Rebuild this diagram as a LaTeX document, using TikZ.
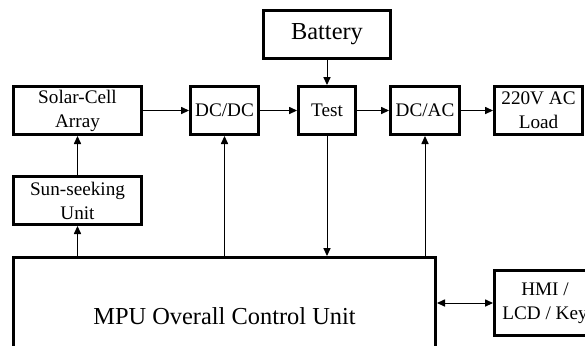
\documentclass[tikz,border=0pt]{standalone}
\usepackage{fontspec}
\setmainfont{Liberation Serif}
\usetikzlibrary{arrows.meta, positioning}

\begin{document}
\begin{tikzpicture}[
	block/.style={rectangle, draw, line width=1.5pt, minimum height=24pt, inner sep=1pt, align=center, font=\fontsize{9.6}{12}\selectfont},
	bigblock/.style={block, font=\fontsize{12.2}{14}\selectfont},
	arrow/.style={->, line width=0.5pt},
	>={Triangle[length=4pt, width=3.6pt]},
	node distance=16pt and 16pt
]
	\useasboundingbox (0,0) rectangle (292.5pt,-172.5pt);
	\clip (0,0) rectangle (292.5pt,-172.5pt);

	% Power chain
	\node[block, minimum width=64pt] (solar) at (38.75pt,-55.25pt) {Solar-Cell\\Array};
	\node[block, minimum width=34pt, right=23pt of solar] (dcdc) {DC/DC};
	\node[block, minimum width=28.5pt, right=18.5pt of dcdc] (test) {Test};
	\node[block, minimum width=34.5pt, right=of test] (dcac) {DC/AC};
	\node[block, minimum width=44pt, right=of dcac] (load) {220V AC\\Load};
	\node[bigblock, minimum width=63.5pt, above=12.5pt of test] (battery) {Battery};

	% Control
	\node[block, minimum width=64pt, below=19.5pt of solar] (sun) {Sun-seeking\\Unit};
	\node[bigblock, minimum width=211pt, minimum height=58.5pt, below=15pt of sun.south west, anchor=north west] (mpu) {MPU Overall Control Unit};
	\node[block, minimum width=50.5pt, minimum height=32.5pt, right=28pt of mpu.east, yshift=6.5pt] (hmi) {HMI /\\LCD / Key};

	% Arrows
	\draw[arrow] (solar) -- (dcdc);
	\draw[arrow] (dcdc) -- (test);
	\draw[arrow] (test) -- (dcac);
	\draw[arrow] (dcac) -- (load);
	\draw[arrow] (battery) -- (test);
	\draw[arrow] (sun) -- (solar);
	\draw[arrow] (mpu.north -| sun) -- (sun);
	\draw[arrow] (mpu.north -| dcdc) -- (dcdc);
	\draw[arrow] (test) -- (test |- mpu.north);
	\draw[arrow] (mpu.north -| dcac) -- (dcac);
	\draw[arrow, <->] (mpu.east |- hmi.west) -- (hmi.west);
\end{tikzpicture}
\end{document}
